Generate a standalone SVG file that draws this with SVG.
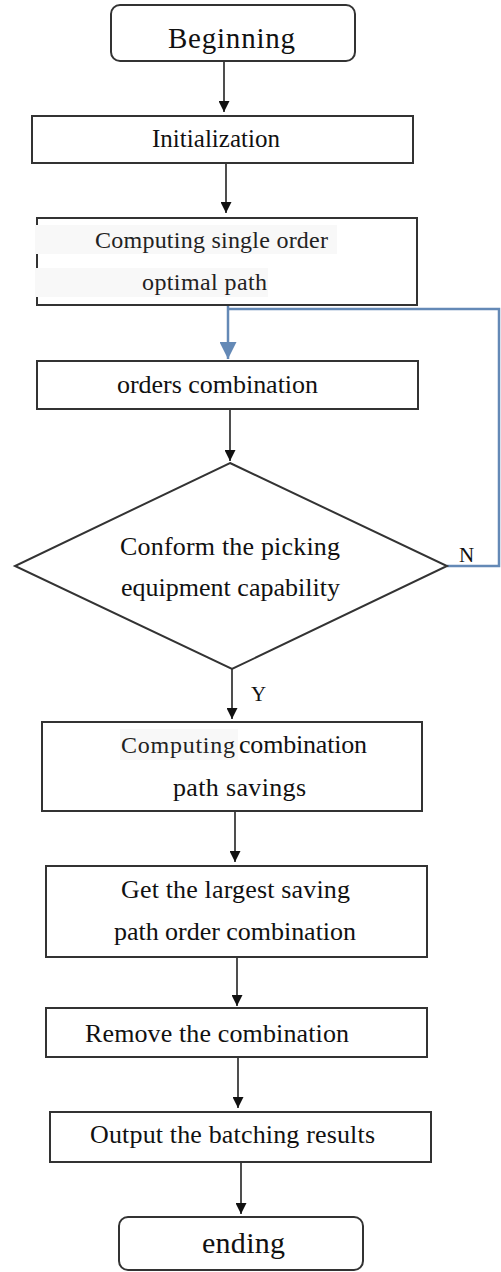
<svg xmlns="http://www.w3.org/2000/svg" width="501" height="1272" viewBox="0 0 501 1272">
<defs>
<style>
.box{fill:#fff;stroke:#333;stroke-width:2}
.t{font-family:"Liberation Serif","Times New Roman",serif;fill:#111}
.c{font-family:"Liberation Serif","Times New Roman",serif;fill:#222}
.hl{fill:#f8f8f8;stroke:none}
.con{fill:none;stroke:#222;stroke-width:1.6}
.blue{fill:none;stroke:#6489b6;stroke-width:2.5}
</style>
<marker id="ah" markerUnits="userSpaceOnUse" markerWidth="11" markerHeight="11" refX="10" refY="5" orient="auto" viewBox="0 0 10 10">
<path d="M0,0 L10,5 L0,10 z" fill="#111"/>
</marker>
<marker id="ahb" markerUnits="userSpaceOnUse" markerWidth="17" markerHeight="17" refX="10" refY="5" orient="auto" viewBox="0 0 10 10">
<path d="M0,0 L10,5 L0,10 z" fill="#6489b6"/>
</marker>
</defs>
<rect width="501" height="1272" fill="#fff"/>

<g id="connectors">
<path class="con" d="M224,61 V112" marker-end="url(#ah)"/>
<path class="con" d="M226,163 V213" marker-end="url(#ah)"/>
<path class="blue" d="M228,305 V359" marker-end="url(#ahb)"/>
<path class="blue" d="M447,566 H499 V309 H228"/>
<path class="con" d="M230,409 V461" marker-end="url(#ah)"/>
<path class="con" d="M232,669 V719" marker-end="url(#ah)"/>
<path class="con" d="M235,811 V862" marker-end="url(#ah)"/>
<path class="con" d="M237,957 V1006" marker-end="url(#ah)"/>
<path class="con" d="M238,1057 V1108" marker-end="url(#ah)"/>
<path class="con" d="M241,1162 V1214" marker-end="url(#ah)"/>
<text class="t" x="459" y="562" font-size="21">N</text>
<text class="t" x="251" y="701" font-size="21">Y</text>
</g>

<g id="beginning">
<rect class="box" x="111" y="5" width="244" height="56" rx="9"/>
<text class="t" x="168" y="48" font-size="29" textLength="127">Beginning</text>
</g>

<g id="initialization">
<rect class="box" x="32" y="116" width="381" height="47"/>
<text class="t" x="152" y="147" font-size="25" textLength="128">Initialization</text>
</g>

<g id="single-order">
<rect class="box" x="37" y="218" width="380" height="87"/>
<rect class="hl" x="35" y="225" width="302" height="29"/>
<rect class="hl" x="35" y="268" width="233" height="29"/>
<text class="c" x="95" y="248" font-size="24" textLength="233">Computing single order</text>
<text class="c" x="142" y="290" font-size="24" textLength="125">optimal path</text>
</g>

<g id="orders-combination">
<rect class="box" x="37" y="361" width="381" height="48"/>
<text class="t" x="117" y="393" font-size="26" textLength="201">orders combination</text>
</g>

<g id="conform">
<polygon class="box" points="230,463 447,566 232,669 15,566"/>
<text class="t" x="120" y="555" font-size="26" textLength="220">Conform the picking</text>
<text class="t" x="121" y="596" font-size="26" textLength="219">equipment capability</text>
</g>

<g id="savings">
<rect class="box" x="42" y="722" width="380" height="89"/>
<rect class="hl" x="120" y="729" width="118" height="31"/>
<text class="c" x="121" y="753" font-size="24" textLength="114">Computing</text>
<text class="t" x="239" y="753" font-size="26" textLength="128">combination</text>
<text class="t" x="173" y="796" font-size="26" textLength="133">path savings</text>
</g>

<g id="largest">
<rect class="box" x="46" y="866" width="381" height="91"/>
<text class="t" x="121" y="898" font-size="26" textLength="229">Get the largest saving</text>
<text class="t" x="114" y="940" font-size="26" textLength="242">path order combination</text>
</g>

<g id="remove">
<rect class="box" x="46" y="1008" width="381" height="49"/>
<text class="t" x="85" y="1042" font-size="26" textLength="264">Remove the combination</text>
</g>

<g id="output">
<rect class="box" x="50" y="1112" width="381" height="50"/>
<text class="t" x="90" y="1143" font-size="26" textLength="285">Output the batching results</text>
</g>

<g id="ending">
<rect class="box" x="119" y="1217" width="244" height="53" rx="9"/>
<text class="t" x="202" y="1253" font-size="30" textLength="83">ending</text>
</g>
</svg>
